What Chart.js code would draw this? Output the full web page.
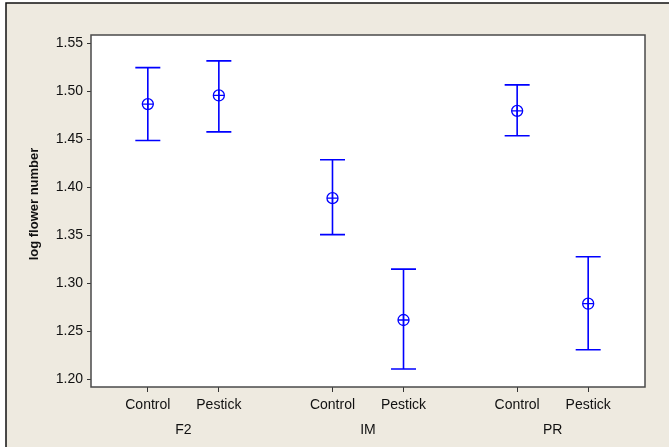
<!DOCTYPE html>
<html>
<head>
<meta charset="utf-8">
<script src="https://cdn.jsdelivr.net/npm/chart.js@4/dist/chart.umd.min.js"></script>
<style>
  html, body { margin: 0; padding: 0; background: #ffffff; }
  #wrap { position: relative; width: 669px; height: 447px; }
</style>
</head>
<body>
<div id="wrap"><canvas id="interval-chart" width="669" height="447"></canvas></div>
<script>
// interval plot data
const groups = ['F2', 'IM', 'PR'];
const treatments = ['Control', 'Pestick'];
const means = [1.487, 1.496, 1.389, 1.262, 1.480, 1.279];
const upper = [1.525, 1.532, 1.429, 1.315, 1.507, 1.328];
const lower = [1.449, 1.458, 1.351, 1.211, 1.454, 1.231];
const yTicks = [1.20, 1.25, 1.30, 1.35, 1.40, 1.45, 1.50, 1.55];

const groupGap = 2.6;
const xPos = [];
const xLabels = [];
groups.forEach((g, gi) => {
    treatments.forEach((t, ti) => {
        xPos.push(gi * groupGap + ti);
        xLabels.push(t);
    });
});

const blue = '#0000ff';
const bg = '#eeeae0';
const font = "'Liberation Sans', Arial, sans-serif";

const framePlugin = {
    id: 'frame',
    beforeDraw(chart) {
        const { ctx, chartArea: a, width, height } = chart;
        ctx.save();
        ctx.fillStyle = '#ffffff';
        ctx.fillRect(0, 0, width, height);
        ctx.fillStyle = bg;
        ctx.fillRect(6, 3, width - 6, height - 3);
        ctx.strokeStyle = '#111';
        ctx.lineWidth = 1.5;
        ctx.beginPath();
        ctx.moveTo(6, height);
        ctx.lineTo(6, 3);
        ctx.lineTo(width, 3);
        ctx.stroke();
        ctx.fillStyle = '#ffffff';
        ctx.fillRect(a.left, a.top, a.right - a.left, a.bottom - a.top);
        ctx.restore();
    },
    afterDatasetsDraw(chart) {
        const { ctx, chartArea: a, scales } = chart;
        const x = scales.x, y = scales.y;
        ctx.save();
        // error bars
        ctx.strokeStyle = blue;
        ctx.lineWidth = 1.6;
        xPos.forEach((p, i) => {
            const px = x.getPixelForValue(p);
            const top = y.getPixelForValue(upper[i]);
            const bot = y.getPixelForValue(lower[i]);
            ctx.beginPath();
            ctx.moveTo(px, top);
            ctx.lineTo(px, bot);
            ctx.moveTo(px - 12.5, top);
            ctx.lineTo(px + 12.5, top);
            ctx.moveTo(px - 12.5, bot);
            ctx.lineTo(px + 12.5, bot);
            ctx.stroke();
        });
        // plot box
        ctx.strokeStyle = '#4a4a4a';
        ctx.lineWidth = 1.5;
        ctx.strokeRect(a.left, a.top, a.right - a.left, a.bottom - a.top);
        // group labels under the category ticks
        ctx.fillStyle = '#111';
        ctx.font = '14px ' + font;
        ctx.textAlign = 'center';
        ctx.textBaseline = 'middle';
        groups.forEach((g, gi) => {
            const mid = (x.getPixelForValue(xPos[gi * 2]) + x.getPixelForValue(xPos[gi * 2 + 1])) / 2;
            ctx.fillText(g, mid, 430);
        });
        // y axis title
        ctx.font = 'bold 13px ' + font;
        ctx.translate(34, 204);
        ctx.rotate(-Math.PI / 2);
        ctx.fillText('log flower number', 0, 0);
        ctx.restore();
    }
};

const points = xPos.map((p, i) => ({ x: p, y: means[i] }));

new Chart(document.getElementById('interval-chart'), {
    type: 'scatter',
    data: {
        datasets: [
            {
                data: points,
                pointStyle: 'circle',
                pointRadius: 5.5,
                pointBorderColor: blue,
                pointBackgroundColor: 'rgba(0,0,0,0)',
                pointBorderWidth: 1.3
            },
            {
                data: points,
                pointStyle: 'cross',
                pointRadius: 5.5,
                pointBorderColor: blue,
                pointBorderWidth: 1.3
            }
        ]
    },
    options: {
        responsive: false,
        animation: false,
        events: [],
        layout: { padding: { left: 0, top: 35, right: 24, bottom: 0 } },
        plugins: {
            legend: { display: false },
            tooltip: { enabled: false }
        },
        scales: {
            x: {
                type: 'linear',
                min: -0.8,
                max: 7.0,
                afterBuildTicks: s => { s.ticks = xPos.map(v => ({ value: v })); },
                afterFit: s => { s.height = 60; },
                ticks: {
                    autoSkip: false,
                    maxRotation: 0,
                    padding: 5,
                    color: '#111',
                    font: { family: font, size: 14 },
                    callback: (v, i) => xLabels[i]
                },
                grid: { drawOnChartArea: false, tickLength: 5, color: '#333', lineWidth: 1 },
                border: { display: false }
            },
            y: {
                min: 1.1922,
                max: 1.559,
                afterBuildTicks: s => { s.ticks = yTicks.map(v => ({ value: v })); },
                afterFit: s => { s.width = 91; },
                ticks: {
                    padding: 4,
                    color: '#111',
                    font: { family: font, size: 14 },
                    callback: v => v.toFixed(2)
                },
                grid: { drawOnChartArea: false, tickLength: 4, color: '#333', lineWidth: 1 },
                border: { display: false }
            }
        }
    },
    plugins: [framePlugin]
});
</script>
</body>
</html>
